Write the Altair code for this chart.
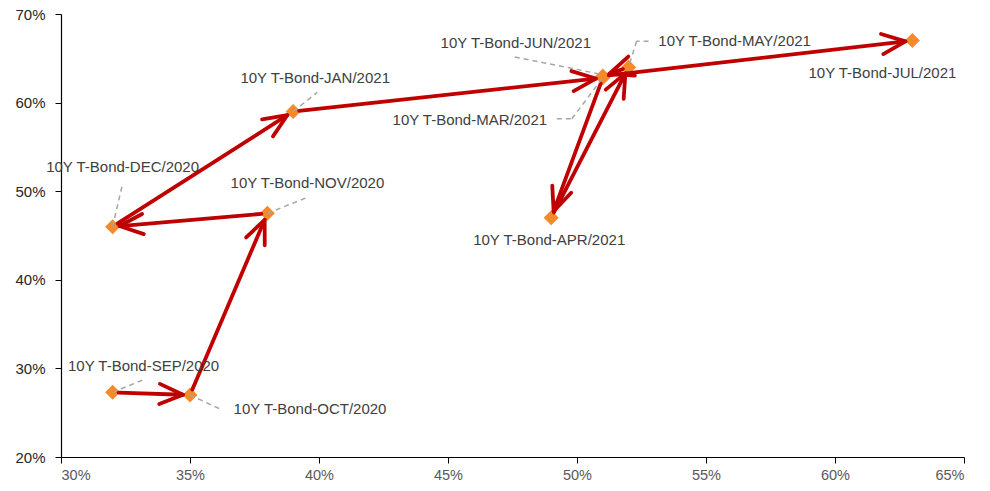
import math
import altair as alt
import pandas as pd

# ---------------- data ----------------
months = ["SEP/2020", "OCT/2020", "NOV/2020", "DEC/2020", "JAN/2021",
          "MAR/2021", "APR/2021", "MAY/2021", "JUN/2021", "JUL/2021"]
x_vals = [32.0, 35.0, 38.0, 32.0, 39.0, 51.0, 49.0, 52.0, 51.0, 63.0]
y_vals = [27.3, 27.0, 47.5, 46.0, 59.0, 62.8, 47.0, 64.0, 63.0, 67.0]
label_prefix = "10Y T-Bond-"
x_ticks = [30, 35, 40, 45, 50, 55, 60, 65]
y_ticks = [20, 30, 40, 50, 60, 70]

# ---------------- layout / style ----------------
W, H = 903, 443
X_DOM = [30, 65]
Y_DOM = [20, 70]
PX = W / (X_DOM[1] - X_DOM[0])   # pixels per x unit
PY = H / (Y_DOM[1] - Y_DOM[0])   # pixels per y unit

# label centre offsets from their point, in pixels (screen y down)
label_offsets = [(31, -26), (120, 14), (40, -30), (10, -60), (22, -33),
                 (-133, 42), (-2, 22), (106, -26), (-87, -33), (-30, 32)]
# leader polylines, pixel offsets from the point
leader_paths = [
    [(0, 0), (32, -13)],
    [(0, 0), (30, 14)],
    [(0, 0), (40, -16)],
    [(0, 0), (10, -43)],
    [(0, 0), (24, -19)],
    [(-46, 41), (-31, 41), (0, 0)],
    [],
    [(20, -26), (8, -26), (0, 0)],
    [(-88, -19), (-3, -2)],
    [],
]
START_GAP = 6
TIP_GAP = 7

FONT = "Liberation Sans"
ARROW_RED = "#C00000"
ORANGE = "#F58A2A"


def off(x, y, dx, dy):
    return x + dx / PX, y - dy / PY


# points
pts = pd.DataFrame({
    "x": x_vals, "y": y_vals,
    "label": [label_prefix + m for m in months],
})

# label positions
lab_rows = []
for xv, yv, m, (dx, dy) in zip(x_vals, y_vals, months, label_offsets):
    lx, ly = off(xv, yv, dx, dy)
    lab_rows.append({"x": lx, "y": ly, "label": label_prefix + m})
labs = pd.DataFrame(lab_rows)

# leader segments
lead_rows = []
for xv, yv, path in zip(x_vals, y_vals, leader_paths):
    for (ax, ay), (bx, by) in zip(path[:-1], path[1:]):
        x1, y1 = off(xv, yv, ax, ay)
        x2, y2 = off(xv, yv, bx, by)
        lead_rows.append({"x": x1, "y": y1, "x2": x2, "y2": y2})
leads = pd.DataFrame(lead_rows)

# arrows between consecutive months
arr_rows = []
for i in range(len(x_vals) - 1):
    x1, y1, x2, y2 = x_vals[i], y_vals[i], x_vals[i + 1], y_vals[i + 1]
    dxp = (x2 - x1) * PX
    dyp = -(y2 - y1) * PY
    L = math.hypot(dxp, dyp)
    ux, uy = dxp / L, dyp / L
    sx, sy = off(x1, y1, ux * START_GAP, uy * START_GAP)
    tx, ty = off(x2, y2, -ux * TIP_GAP, -uy * TIP_GAP)
    ang = math.degrees(math.atan2(dyp, dxp)) % 360
    arr_rows.append({"x": sx, "y": sy, "x2": tx, "y2": ty, "ang": ang})
arrs = pd.DataFrame(arr_rows)

xs = alt.Scale(domain=X_DOM, nice=False, zero=False)
ys = alt.Scale(domain=Y_DOM, nice=False, zero=False)

x_axis = alt.Axis(values=x_ticks, labelExpr="datum.value + '%'", grid=False,
                  domainColor="#000000", tickColor="#000000", tickSize=6,
                  labelColor="#595959", labelFont=FONT, labelFontSize=14.5,
                  labelPadding=5, title=None, domainWidth=1.2)
y_axis = alt.Axis(values=y_ticks, labelExpr="datum.value + '%'", grid=False,
                  domainColor="#000000", tickColor="#000000", tickSize=6,
                  labelColor="#262626", labelFont=FONT, labelFontSize=15,
                  labelPadding=10, title=None, domainWidth=1.2)

base_pts = alt.Chart(pts)

markers = base_pts.mark_point(shape="diamond", filled=True, opacity=1,
                              color=ORANGE, size=225).encode(
    x=alt.X("x:Q", scale=xs, axis=x_axis),
    y=alt.Y("y:Q", scale=ys, axis=y_axis),
)

arrow_lines = alt.Chart(arrs).mark_rule(color=ARROW_RED, strokeWidth=3.8,
                                        strokeCap="round").encode(
    x=alt.X("x:Q", scale=xs), y=alt.Y("y:Q", scale=ys),
    x2="x2:Q", y2="y2:Q",
)

arrow_heads = alt.Chart(arrs).mark_point(
    shape="M -1 -0.43 L 0 0 L -1 0.43", filled=False, opacity=1,
    color=ARROW_RED, strokeWidth=3.8, size=2200,
    strokeCap="round", strokeJoin="round").encode(
    x=alt.X("x2:Q", scale=xs), y=alt.Y("y2:Q", scale=ys),
    angle=alt.Angle("ang:Q", scale=None),
)

leaders = alt.Chart(leads).mark_rule(color="#A6A6A6", strokeWidth=1.5,
                                     strokeDash=[5, 4]).encode(
    x=alt.X("x:Q", scale=xs), y=alt.Y("y:Q", scale=ys),
    x2="x2:Q", y2="y2:Q",
)

texts = alt.Chart(labs).mark_text(font=FONT, fontSize=15, color="#404040",
                                  align="center", baseline="middle").encode(
    x=alt.X("x:Q", scale=xs), y=alt.Y("y:Q", scale=ys),
    text="label:N",
)

chart = alt.layer(markers, arrow_lines, arrow_heads, leaders, texts).properties(
    width=W, height=H,
    autosize=alt.AutoSizeParams(type="none"),
    padding={"left": 61, "top": 14, "right": 26, "bottom": 34},
    background="white",
).configure_view(stroke=None)

chart.save("out.html", embed_options={"renderer": "svg", "actions": False})
